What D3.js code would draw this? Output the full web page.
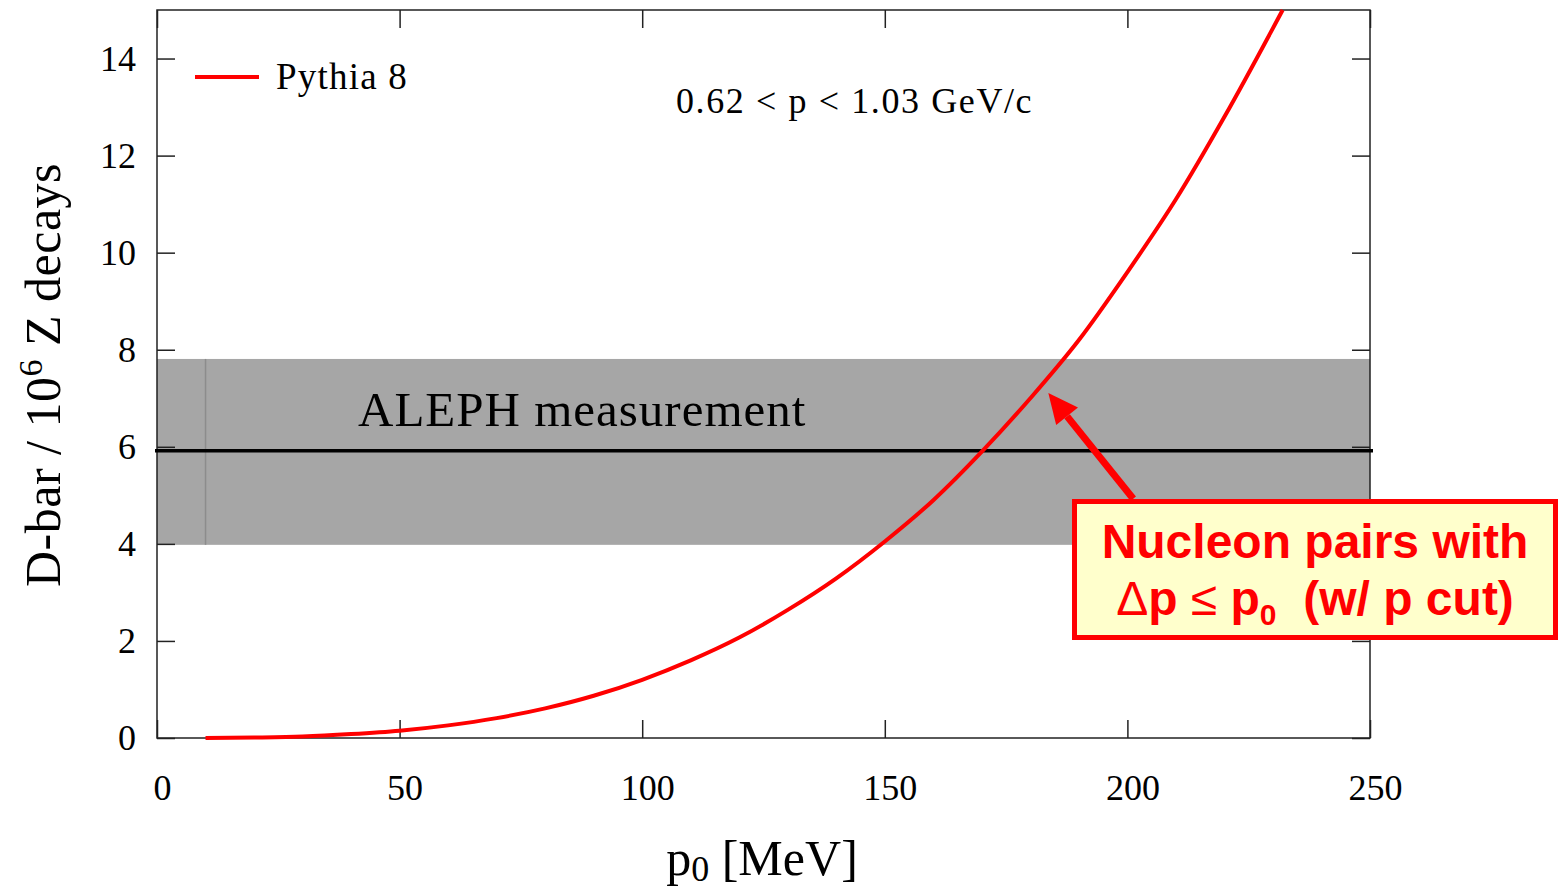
<!DOCTYPE html>
<html>
<head>
<meta charset="utf-8">
<script src="https://cdn.jsdelivr.net/npm/d3@7"></script>
<style>
  body { margin: 0; background: #fff; }
  svg text { font-family: "Liberation Serif", "Times New Roman", serif; }
  .tick text { font-size: 36px; fill: #000; }
  .tick line { stroke: #222; stroke-width: 1.5; }
</style>
</head>
<body>
<script>
// Pythia 8 curve
var p0 = [10, 20, 30, 40, 50, 60, 70, 80, 90, 100, 110, 120, 130, 140, 150, 160, 170, 180, 190, 200, 210, 220, 232];
var yield8 = [0.0, 0.01, 0.03, 0.08, 0.15, 0.26, 0.41, 0.61, 0.87, 1.2, 1.6, 2.07, 2.64, 3.29, 4.05, 4.9, 5.9, 7.0, 8.2, 9.6, 11.1, 12.8, 15.0];

// ALEPH measurement: central value and band
var alephCentral = 5.92;
var alephLow = 3.98;
var alephHigh = 7.81;
var bandEdgeX = 10;

var xTicks = [0, 50, 100, 150, 200, 250];
var yTicks = [0, 2, 4, 6, 8, 10, 12, 14];

var margin = {top: 10, right: 190, bottom: 152, left: 157},
    width = 1560 - margin.left - margin.right,
    height = 890 - margin.top - margin.bottom;

var svg = d3.select("body").append("svg")
    .attr("width", 1560)
    .attr("height", 890);

var g = svg.append("g")
    .attr("transform", "translate(" + margin.left + "," + margin.top + ")");

var x = d3.scaleLinear().domain([0, 250]).range([0, width]);
var y = d3.scaleLinear().domain([0, 15]).range([height, 0]);

// band
g.append("rect")
  .attr("x", x(0))
  .attr("y", y(alephHigh))
  .attr("width", x(250) - x(0))
  .attr("height", y(alephLow) - y(alephHigh))
  .attr("fill", "#a6a6a6");

g.append("line")
  .attr("x1", x(bandEdgeX)).attr("x2", x(bandEdgeX))
  .attr("y1", y(alephLow)).attr("y2", y(alephHigh))
  .attr("stroke", "#8c8c8c")
  .attr("stroke-width", 1.5);

g.append("text")
  .attr("x", 201)
  .attr("y", 416)
  .style("font-size", "49px")
  .style("letter-spacing", "1px")
  .text("ALEPH measurement");

// axes (ticks inside)
var tk = 18;
g.append("g").attr("class", "y axis")
  .call(d3.axisLeft(y).tickValues(yTicks).tickSize(-tk).tickPadding(21))
  .call(function(s){ s.select(".domain").remove(); });

g.append("g").attr("class", "y axis")
  .attr("transform", "translate(" + width + ",0)")
  .call(d3.axisRight(y).tickValues(yTicks).tickSize(-tk).tickFormat(""))
  .call(function(s){ s.select(".domain").remove(); });

var xa = g.append("g").attr("class", "x axis")
  .attr("transform", "translate(0," + height + ")")
  .call(d3.axisBottom(x).tickValues(xTicks).tickSize(-tk).tickPadding(36))
  .call(function(s){ s.select(".domain").remove(); });
xa.selectAll(".tick text").attr("dx", 5);

g.append("g").attr("class", "x axis")
  .call(d3.axisTop(x).tickValues(xTicks).tickSize(-tk).tickFormat(""))
  .call(function(s){ s.select(".domain").remove(); });

g.append("rect")
  .attr("x", 0).attr("y", 0)
  .attr("width", width).attr("height", height)
  .attr("fill", "none")
  .attr("stroke", "#222")
  .attr("stroke-width", 1.5);

// central value
g.append("line")
  .attr("x1", x(0) - 2).attr("x2", x(250) + 3)
  .attr("y1", y(alephCentral)).attr("y2", y(alephCentral))
  .attr("stroke", "#000")
  .attr("stroke-width", 3.5);

// Pythia curve
var line = d3.line()
  .x(function(d, i){ return x(p0[i]); })
  .y(function(d){ return y(d); })
  .curve(d3.curveMonotoneX);

g.append("path")
  .datum(yield8)
  .attr("d", line)
  .attr("fill", "none")
  .attr("stroke", "#ff0000")
  .attr("stroke-width", 4);

// legend
g.append("line")
  .attr("x1", 38).attr("x2", 102)
  .attr("y1", 67).attr("y2", 67)
  .attr("stroke", "#ff0000")
  .attr("stroke-width", 4);
g.append("text")
  .attr("x", 119).attr("y", 79)
  .style("font-size", "37px")
  .style("letter-spacing", "1.2px")
  .text("Pythia 8");

g.append("text")
  .attr("x", 519).attr("y", 103)
  .style("font-size", "36px")
  .style("letter-spacing", "1.6px")
  .text("0.62 < p < 1.03 GeV/c");

// axis titles
var xt = svg.append("text")
  .attr("x", 762).attr("y", 875)
  .attr("text-anchor", "middle")
  .style("font-size", "50px");
xt.append("tspan").text("p");
xt.append("tspan").attr("dy", 6).style("font-size", "36px").text("0");
xt.append("tspan").attr("dy", -6).text(" [MeV]");

var yt = svg.append("text")
  .attr("transform", "translate(60,375) rotate(-90)")
  .attr("text-anchor", "middle")
  .style("font-size", "50px")
  .style("letter-spacing", "0.5px");
yt.append("tspan").text("D-bar / 10");
yt.append("tspan").attr("dy", -18).style("font-size", "34px").text("6");
yt.append("tspan").attr("dy", 18).text(" Z decays");

// annotation arrow
var tip = [x(183.7), y(7.11)], tail = [x(201.2), y(4.93)];
var ang = Math.atan2(tip[1] - tail[1], tip[0] - tail[0]);
var hl = 30, hw = 14;
var base = [tip[0] - hl * Math.cos(ang), tip[1] - hl * Math.sin(ang)];
g.append("line")
  .attr("x1", tail[0]).attr("y1", tail[1])
  .attr("x2", base[0]).attr("y2", base[1])
  .attr("stroke", "#ff0000")
  .attr("stroke-width", 7);
g.append("polygon")
  .attr("points", [
    tip,
    [base[0] + hw * Math.sin(ang), base[1] - hw * Math.cos(ang)],
    [base[0] - hw * Math.sin(ang), base[1] + hw * Math.cos(ang)]
  ].map(function(p){ return p.join(","); }).join(" "))
  .attr("fill", "#ff0000");

// annotation box
svg.append("rect")
  .attr("x", 1074.5).attr("y", 501.5)
  .attr("width", 481).attr("height", 136)
  .attr("fill", "#ffffcc")
  .attr("stroke", "#ff0000")
  .attr("stroke-width", 5);

svg.append("text")
  .attr("x", 1315).attr("y", 558)
  .attr("text-anchor", "middle")
  .style("font-family", "'Liberation Sans', Arial, sans-serif")
  .style("font-weight", "bold")
  .style("font-size", "48px")
  .attr("fill", "#ff0000")
  .text("Nucleon pairs with");

var t2 = svg.append("text")
  .attr("x", 1315).attr("y", 615)
  .attr("text-anchor", "middle")
  .style("font-family", "'Liberation Sans', Arial, sans-serif")
  .style("font-weight", "bold")
  .style("font-size", "48px")
  .attr("fill", "#ff0000");
t2.append("tspan").style("font-weight", "normal").text("\u0394");
t2.append("tspan").text("p ");
t2.append("tspan").style("font-weight", "normal").text("\u2264");
t2.append("tspan").text(" p");
t2.append("tspan").attr("dy", 10).style("font-size", "30px").text("0");
t2.append("tspan").attr("dy", -10).text("\u00a0 (w/ p cut)");
</script>
</body>
</html>
